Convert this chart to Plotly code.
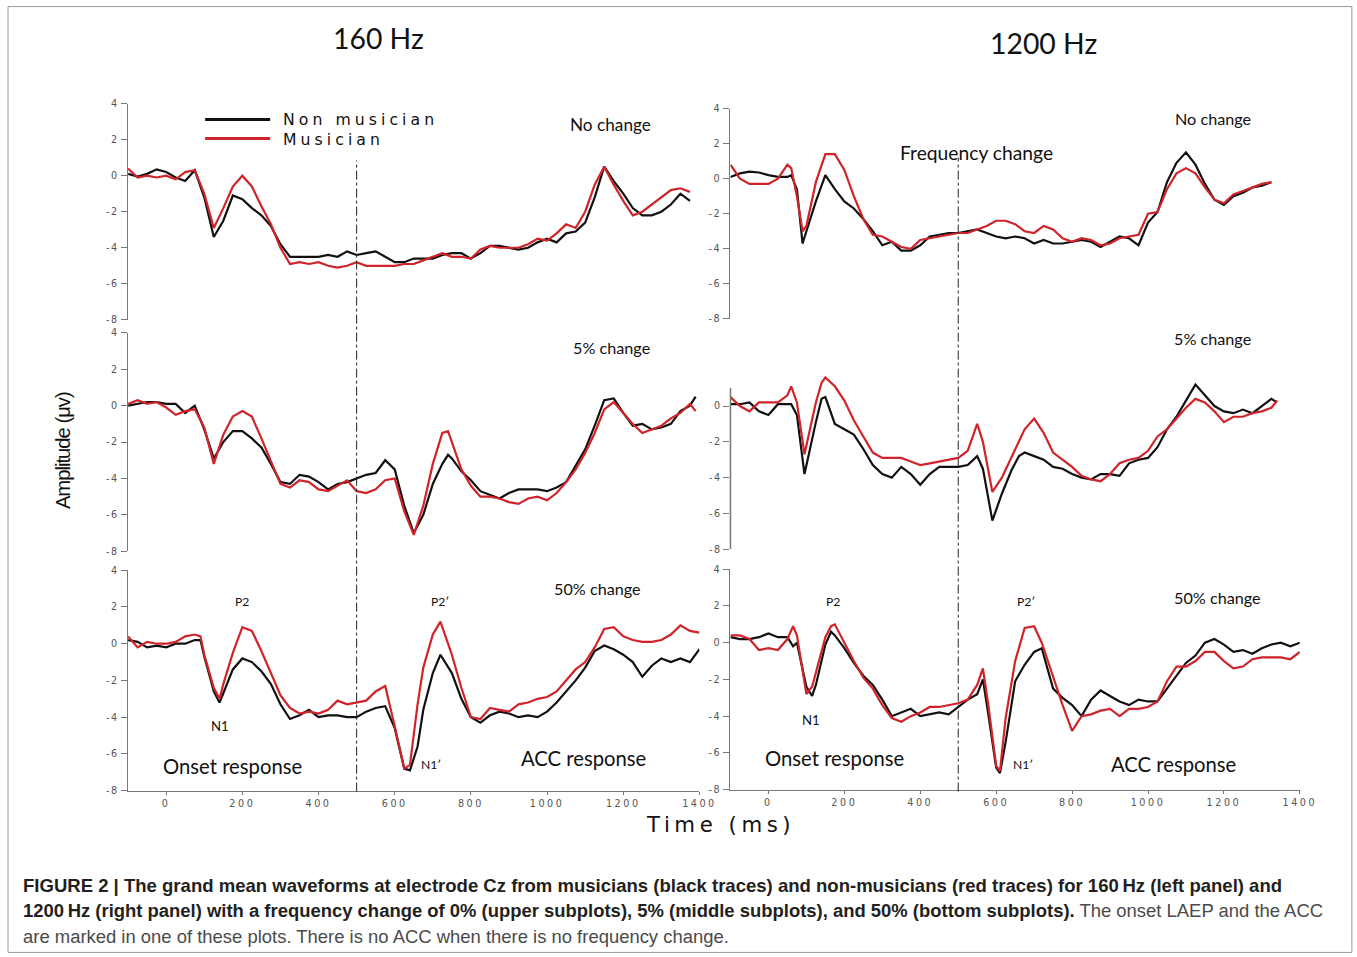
import plotly.graph_objects as go

# Canvas geometry.  The photographed viewport comes back ~1.3% reduced and letterboxed,
# so the page is laid out at 1375x958 and reference pixel positions are mapped through S / OY.
W, H = 1375, 958
S, OY = 0.987, 5.6

# ---------------- DATA ----------------
# Top-left: 160 Hz, no change
t_tl = [-100, -75, -50, -25, 0, 25, 50, 75, 100, 125, 150, 175, 200, 225, 250, 275, 300, 325, 350, 375,
        400, 425, 450, 475, 500, 525, 550, 575, 600, 625, 650, 675, 700, 725, 750, 775, 800, 825, 850, 875,
        900, 925, 950, 975, 1000, 1025, 1050, 1075, 1100, 1125, 1150, 1175, 1200, 1225, 1250, 1275, 1300,
        1325, 1350, 1375]
black_tl = [0.1, -0.05, 0.1, 0.35, 0.2, -0.1, -0.3, 0.3, -1.2, -3.4, -2.5, -1.1, -1.3, -1.8, -2.2, -2.8, -3.8,
            -4.5, -4.5, -4.5, -4.5, -4.4, -4.5, -4.2, -4.4, -4.3, -4.2, -4.5, -4.8, -4.8, -4.6, -4.6, -4.6,
            -4.4, -4.3, -4.3, -4.6, -4.3, -3.9, -3.9, -4.0, -4.1, -4.0, -3.7, -3.5, -3.7, -3.2, -3.1, -2.6,
            -1.2, 0.5, -0.3, -1.0, -1.8, -2.2, -2.2, -2.0, -1.6, -1.0, -1.4]
red_tl = [0.4, -0.1, 0.0, -0.1, 0.0, -0.2, 0.2, 0.3, -1.0, -2.9, -1.8, -0.6, 0.0, -0.6, -1.7, -2.7, -4.0,
          -4.9, -4.8, -4.9, -4.8, -5.0, -5.1, -5.0, -4.8, -5.0, -5.0, -5.0, -5.0, -4.9, -4.9, -4.7, -4.5,
          -4.3, -4.5, -4.5, -4.6, -4.1, -3.9, -4.0, -4.0, -4.0, -3.8, -3.5, -3.6, -3.2, -2.7, -2.9, -2.0,
          -0.5, 0.5, -0.5, -1.4, -2.2, -2.0, -1.6, -1.2, -0.8, -0.7, -0.9]

# Top-right: 1200 Hz, no change
t_tr = [-100, -75, -50, -25, 0, 25, 50, 60, 75, 90, 100, 125, 150, 175, 200, 225, 250, 275, 300, 325, 350,
        375, 400, 425, 450, 475, 500, 525, 550, 575, 600, 625, 650, 675, 700, 725, 750, 775, 800, 825, 850,
        875, 900, 925, 950, 975, 1000, 1025, 1050, 1075, 1100, 1125, 1150, 1175, 1200, 1225, 1250, 1275,
        1300, 1325]
black_tr = [0.1, 0.3, 0.4, 0.35, 0.2, 0.1, 0.1, 0.2, -0.6, -3.7, -3.0, -1.3, 0.2, -0.6, -1.3, -1.7, -2.3,
            -3.0, -3.8, -3.6, -4.1, -4.1, -3.8, -3.3, -3.2, -3.1, -3.1, -3.0, -2.9, -3.1, -3.3, -3.4, -3.3,
            -3.4, -3.7, -3.5, -3.7, -3.7, -3.6, -3.5, -3.6, -3.9, -3.6, -3.3, -3.4, -3.8, -2.5, -1.9, -0.2,
            0.9, 1.5, 0.8, -0.3, -1.2, -1.5, -1.0, -0.8, -0.5, -0.4, -0.2]
red_tr = [0.8, 0.0, -0.3, -0.3, -0.3, 0.0, 0.8, 0.6, -1.0, -3.0, -2.7, -0.2, 1.4, 1.4, 0.5, -1.0, -2.3,
          -3.2, -3.3, -3.6, -3.9, -4.0, -3.5, -3.4, -3.3, -3.2, -3.1, -3.1, -2.9, -2.7, -2.4, -2.4, -2.6,
          -3.0, -3.1, -2.7, -2.9, -3.4, -3.6, -3.4, -3.5, -3.8, -3.7, -3.4, -3.3, -3.2, -2.0, -1.9, -0.6,
          0.3, 0.6, 0.3, -0.5, -1.2, -1.4, -0.9, -0.7, -0.5, -0.3, -0.2]

# Middle-left: 160 Hz, 5% change
t_ml = [-100, -75, -50, -25, 0, 25, 50, 75, 100, 125, 150, 175, 200, 225, 250, 275, 300, 325, 350, 375,
        400, 425, 450, 475, 500, 525, 550, 575, 600, 625, 650, 675, 700, 725, 740, 750, 775, 800, 825, 850,
        875, 900, 925, 950, 975, 1000, 1025, 1050, 1075, 1100, 1125, 1150, 1175, 1200, 1225, 1250, 1275,
        1300, 1325, 1350, 1375, 1390]
black_ml = [0.0, 0.1, 0.2, 0.2, 0.1, 0.1, -0.4, 0.0, -1.3, -2.9, -2.0, -1.4, -1.4, -1.8, -2.3, -3.2, -4.2,
            -4.3, -3.8, -3.9, -4.2, -4.6, -4.3, -4.2, -4.0, -3.8, -3.7, -3.0, -3.5, -5.5, -7.0, -6.0, -4.3,
            -3.2, -2.7, -2.9, -3.6, -4.1, -4.7, -4.9, -5.1, -4.8, -4.6, -4.6, -4.6, -4.7, -4.5, -4.2, -3.3,
            -2.4, -1.1, 0.3, 0.4, -0.4, -1.1, -1.0, -1.3, -1.2, -1.0, -0.3, 0.0, 0.5]
red_ml = [0.1, 0.3, 0.1, 0.2, -0.1, -0.5, -0.3, -0.2, -1.2, -3.2, -1.6, -0.6, -0.3, -0.6, -1.8, -3.0, -4.3,
          -4.5, -4.1, -4.2, -4.6, -4.7, -4.4, -4.1, -4.7, -4.8, -4.6, -4.1, -4.0, -5.8, -7.1, -5.5, -3.2,
          -1.5, -1.4, -2.0, -3.5, -4.4, -5.0, -5.0, -5.1, -5.3, -5.4, -5.1, -5.0, -5.2, -4.8, -4.2, -3.5,
          -2.6, -1.5, -0.2, 0.2, -0.4, -1.0, -1.5, -1.3, -1.1, -0.7, -0.4, 0.1, -0.3]

# Middle-right: 1200 Hz, 5% change
t_mr = [-100, -75, -50, -25, 0, 25, 50, 60, 75, 95, 125, 140, 150, 175, 200, 225, 250, 275, 300, 325, 350,
        375, 400, 425, 450, 475, 500, 525, 550, 565, 590, 615, 640, 660, 675, 700, 725, 750, 775, 800, 825,
        850, 875, 900, 925, 950, 975, 1000, 1025, 1050, 1075, 1100, 1125, 1150, 1175, 1200, 1225, 1250,
        1275, 1300, 1325, 1340]
black_mr = [0.1, 0.1, 0.2, -0.3, -0.5, 0.1, 0.1, 0.1, -0.5, -3.8, -0.9, 0.4, 0.5, -1.0, -1.3, -1.6, -2.4,
            -3.3, -3.8, -4.0, -3.4, -3.8, -4.4, -3.8, -3.4, -3.4, -3.4, -3.3, -2.8, -3.5, -6.4, -4.9, -3.6,
            -2.8, -2.6, -2.8, -3.0, -3.4, -3.5, -3.8, -4.0, -4.1, -3.8, -3.8, -3.9, -3.2, -3.0, -2.9, -2.3,
            -1.3, -0.6, 0.3, 1.2, 0.6, 0.0, -0.3, -0.4, -0.2, -0.4, 0.0, 0.4, 0.2]
red_mr = [0.5, 0.0, -0.3, 0.2, 0.2, 0.2, 0.6, 1.1, 0.2, -2.7, 0.2, 1.3, 1.6, 1.1, 0.3, -0.8, -1.7, -2.6,
          -2.9, -2.9, -2.9, -3.1, -3.3, -3.2, -3.1, -3.0, -2.9, -2.5, -1.0, -2.0, -4.8, -4.0, -2.9, -2.0,
          -1.3, -0.7, -1.5, -2.6, -3.0, -3.4, -3.9, -4.1, -4.2, -3.8, -3.2, -3.0, -2.9, -2.5, -1.7, -1.3,
          -0.7, -0.1, 0.4, 0.2, -0.3, -0.9, -0.6, -0.6, -0.4, -0.3, -0.1, 0.3]

# Bottom-left: 160 Hz, 50% change
t_bl = [-100, -75, -50, -25, 0, 25, 50, 75, 90, 100, 125, 140, 150, 175, 200, 225, 250, 275, 300, 325,
        350, 375, 400, 425, 450, 475, 500, 525, 550, 575, 600, 625, 640, 660, 675, 700, 720, 750, 775, 800,
        825, 850, 875, 900, 925, 950, 975, 1000, 1025, 1050, 1075, 1100, 1125, 1150, 1175, 1200, 1225,
        1250, 1275, 1300, 1325, 1350, 1375, 1400]
black_bl = [0.2, 0.1, -0.2, -0.1, -0.2, 0.0, 0.0, 0.2, 0.2, -0.7, -2.6, -3.2, -2.7, -1.4, -0.8, -1.0, -1.5,
            -2.2, -3.3, -4.1, -3.9, -3.6, -4.0, -3.9, -3.9, -4.0, -4.0, -3.7, -3.5, -3.4, -4.6, -6.8, -6.9,
            -5.6, -3.6, -1.6, -0.6, -1.6, -3.0, -4.0, -4.3, -3.9, -3.7, -3.8, -4.0, -3.9, -4.0, -3.7, -3.2,
            -2.6, -2.0, -1.3, -0.4, -0.1, -0.3, -0.6, -1.0, -1.8, -1.2, -0.8, -1.0, -0.8, -1.0, -0.3]
red_bl = [0.4, -0.2, 0.1, 0.0, 0.0, 0.1, 0.4, 0.5, 0.4, -0.6, -2.4, -3.0, -2.2, -0.5, 0.9, 0.7, -0.4, -1.6,
          -2.8, -3.5, -3.8, -3.7, -3.8, -3.6, -3.1, -3.3, -3.2, -3.1, -2.6, -2.3, -4.5, -6.8, -6.6, -3.3,
          -1.3, 0.5, 1.2, -0.6, -2.4, -4.0, -4.1, -3.5, -3.6, -3.7, -3.3, -3.2, -3.0, -2.9, -2.6, -2.0,
          -1.4, -1.0, -0.2, 0.8, 0.9, 0.4, 0.2, 0.1, 0.1, 0.2, 0.5, 1.0, 0.7, 0.6]

# Bottom-right: 1200 Hz, 50% change
t_br = [-100, -75, -50, -25, 0, 25, 50, 65, 75, 100, 115, 125, 150, 165, 175, 200, 225, 250, 275, 300, 325,
        350, 375, 400, 425, 450, 475, 500, 525, 550, 565, 580, 600, 610, 625, 650, 675, 700, 720, 750, 775,
        800, 825, 850, 875, 900, 925, 950, 975, 1000, 1025, 1050, 1075, 1100, 1125, 1150, 1175, 1200, 1225,
        1250, 1275, 1300, 1325, 1350, 1375, 1400]
black_br = [0.3, 0.2, 0.2, 0.3, 0.5, 0.3, 0.3, -0.2, 0.0, -2.4, -2.9, -2.3, -0.1, 0.6, 0.4, -0.3, -1.1, -1.8,
            -2.3, -3.1, -4.0, -3.8, -3.6, -4.0, -3.9, -3.8, -3.9, -3.5, -3.1, -2.8, -2.0, -4.0, -6.8, -7.1,
            -5.4, -2.1, -1.2, -0.5, -0.3, -2.5, -3.0, -3.4, -4.0, -3.1, -2.6, -2.9, -3.2, -3.4, -3.1, -3.2,
            -3.2, -2.5, -1.8, -1.1, -0.7, 0.0, 0.2, -0.1, -0.5, -0.4, -0.6, -0.3, -0.1, 0.0, -0.2, 0.0]
red_br = [0.4, 0.4, 0.2, -0.4, -0.3, -0.4, 0.2, 0.9, 0.4, -2.8, -2.4, -1.6, 0.3, 0.9, 1.0, 0.0, -1.0, -1.9,
          -2.5, -3.4, -4.1, -4.3, -4.0, -3.8, -3.5, -3.5, -3.4, -3.3, -3.1, -2.3, -1.4, -3.5, -6.7, -7.0,
          -4.1, -1.0, 0.8, 0.9, 0.0, -1.9, -3.4, -4.8, -4.0, -3.9, -3.7, -3.6, -4.0, -3.6, -3.6, -3.5,
          -3.2, -2.1, -1.3, -1.3, -1.0, -0.5, -0.5, -1.0, -1.4, -1.3, -0.9, -0.8, -0.8, -0.8, -0.9, -0.5]

y_ticks = [-8, -6, -4, -2, 0, 2, 4]
y_ticks_mr = [-8, -6, -4, -2, 0]
x_ticks = [0, 200, 400, 600, 800, 1000, 1200, 1400]
series_names = ["Non musician", "Musician"]

# ---------------- FIGURE ----------------
def PX(x):
    # reference pixel -> paper fraction
    return (x / S) / W


def PY(y):
    return 1 - ((y - OY) / S) / H


def FS(size):
    return round(size / S, 2)


def spaced(text, px_):
    return "<span style='letter-spacing:%spx'>%s</span>" % (round(px_ / S, 2), text)


BLACK = "#111111"
RED = "#d0232a"
AX = "#777777"
TICKF = dict(family="DejaVu Sans, Arial, sans-serif", size=FS(9.5), color="#555555")

panels = [
    # t, black, red, axis suffix, x domain px, y domain px (top, bottom), yticks, bottom row
    (t_tl, black_tl, red_tl, "", (128, 699), (103, 319), y_ticks, False),
    (t_tr, black_tr, red_tr, "2", (730, 1299), (108, 318), y_ticks, False),
    (t_ml, black_ml, red_ml, "3", (128, 699), (332, 550), y_ticks, False),
    (t_mr, black_mr, red_mr, "4", (730, 1299), (333.5, 548), y_ticks_mr, False),
    (t_bl, black_bl, red_bl, "5", (128, 699), (569, 789), y_ticks, True),
    (t_br, black_br, red_br, "6", (730, 1299), (568, 788), y_ticks, True),
]

fig = go.Figure()
layout = {}
for t, blk, red, s, xd, yd, yt, bottom in panels:
    xa = "x" + s
    ya = "y" + s
    fig.add_trace(go.Scatter(x=t, y=blk, mode="lines", name=series_names[0],
                             line=dict(color=BLACK, width=2.2), xaxis=xa, yaxis=ya,
                             showlegend=False, hoverinfo="skip"))
    fig.add_trace(go.Scatter(x=t, y=red, mode="lines", name=series_names[1],
                             line=dict(color=RED, width=2.2), xaxis=xa, yaxis=ya,
                             showlegend=False, hoverinfo="skip"))
    layout["xaxis" + s] = dict(
        domain=[PX(xd[0]), PX(xd[1])], range=[-100, 1400], anchor=ya,
        showgrid=False, zeroline=False, fixedrange=True,
        showline=bottom, linecolor=AX, linewidth=1.5,
        ticks="outside" if bottom else "", ticklen=3, tickcolor=AX,
        showticklabels=bottom, tickvals=x_ticks,
        ticktext=[spaced(str(v), 2.5) for v in x_ticks],
        tickfont=TICKF,
    )
    layout["yaxis" + s] = dict(
        domain=[PY(yd[1]), PY(yd[0])], range=[-8, 4], anchor=xa,
        showgrid=False, zeroline=False, fixedrange=True,
        showline=(s != "4"), linecolor=AX, linewidth=1.5,
        ticks="outside", ticklen=6, tickcolor=AX,
        tickvals=yt, ticktext=[spaced(str(v), 1.5) for v in yt], tickfont=TICKF,
    )

shapes = [
    dict(type="rect", xref="paper", yref="paper", x0=PX(8), x1=PX(1351), y0=max(PY(951), 0.0006),
         y1=min(PY(5), 0.9994),
         line=dict(color="#9a9a9a", width=1), fillcolor="rgba(0,0,0,0)", layer="below"),
    dict(type="line", xref="x", yref="paper", x0=500, x1=500, y0=PY(790), y1=PY(160),
         line=dict(color="#222222", width=1, dash="dashdot")),
    dict(type="line", xref="x2", yref="paper", x0=500, x1=500, y0=PY(790), y1=PY(157),
         line=dict(color="#222222", width=1, dash="dashdot")),
    dict(type="line", xref="x4 domain", yref="y4", x0=0, x1=0, y0=-8, y1=1,
         line=dict(color=AX, width=1.5)),
    # legend samples
    dict(type="line", xref="paper", yref="paper", x0=PX(205), x1=PX(270), y0=PY(119), y1=PY(119),
         line=dict(color=BLACK, width=3)),
    dict(type="line", xref="paper", yref="paper", x0=PX(205), x1=PX(270), y0=PY(138), y1=PY(138),
         line=dict(color=RED, width=3)),
]

LATO = "Lato, Open Sans, sans-serif"
anns = []


def ann(text, x, y, size, family=LATO, color="#111111", xanchor="center", angle=0, align="center"):
    anns.append(dict(text=text, x=PX(x), y=PY(y), xref="paper", yref="paper", showarrow=False,
                     xanchor=xanchor, yanchor="middle", textangle=angle, borderpad=0, align=align,
                     font=dict(family=family, size=FS(size), color=color)))


ann("160 Hz", 378, 38, 28)
ann("1200 Hz", 1043, 43, 28)
ann(spaced(series_names[0], 4) + "<br>" + spaced(series_names[1], 4), 282, 128.5, 15.5,
    family="DejaVu Sans, sans-serif", xanchor="left", align="left")
ann("No change", 610, 124, 17)
ann("No change", 1212, 118, 16)
ann("Frequency change", 976, 152, 19)
ann("5% change", 611, 347, 16)
ann("5% change", 1212, 338, 16)
ann("50% change", 597, 587, 16)
ann("50% change", 1217, 596, 16)
ann("P2", 242, 600, 12)
ann("P2\u2032", 440, 600, 12)
ann("N1", 220, 724, 13)
ann("N1\u2032", 431, 763, 12)
ann("P2", 832, 600, 12)
ann("P2\u2032", 1025, 600, 12)
ann("N1", 810, 719, 13)
ann("N1\u2032", 1022, 763, 12)
ann("Onset response", 232, 764, 20)
ann("ACC response", 583, 756, 20)
ann("Onset response", 834, 756, 20)
ann("ACC response", 1173, 762, 20)
ann(spaced("Amplitude (\u03bcv)", -1), 63, 450, 20, family="Liberation Sans, Arial, sans-serif", angle=-90)
ann(spaced("Time (ms)", 4.5), 720, 823, 21, family="DejaVu Sans, sans-serif")

CAP = "Liberation Sans, Arial, sans-serif"
ann("<b>FIGURE 2 | The grand mean waveforms at electrode Cz from musicians (black traces) and non-musicians "
    "(red traces) for 160\u2009Hz (left panel) and</b>", 22, 884, 18.3, family=CAP, color="#231f20",
    xanchor="left")
ann("<b>1200\u2009Hz (right panel) with a frequency change of 0% (upper subplots), 5% (middle subplots), and 50% "
    "(bottom subplots).</b><span style='color:#4a4a4a'> The onset LAEP and the ACC</span>", 22, 909, 18.2,
    family=CAP, color="#231f20", xanchor="left")
ann("are marked in one of these plots. There is no ACC when there is no frequency change.", 22, 935, 18.2,
    family=CAP, color="#4a4a4a", xanchor="left")

fig.update_layout(
    width=W, height=H, margin=dict(l=0, r=0, t=0, b=0),
    paper_bgcolor="white", plot_bgcolor="white",
    showlegend=False, shapes=shapes, annotations=anns,
    **layout,
)

POST = (
    "var css='margin:0;padding:0;overflow:hidden;';"
    "document.documentElement.style.cssText=css;document.body.style.cssText=css;"
)

fig.write_html("out.html", config={"displayModeBar": False, "staticPlot": True}, post_script=POST)
